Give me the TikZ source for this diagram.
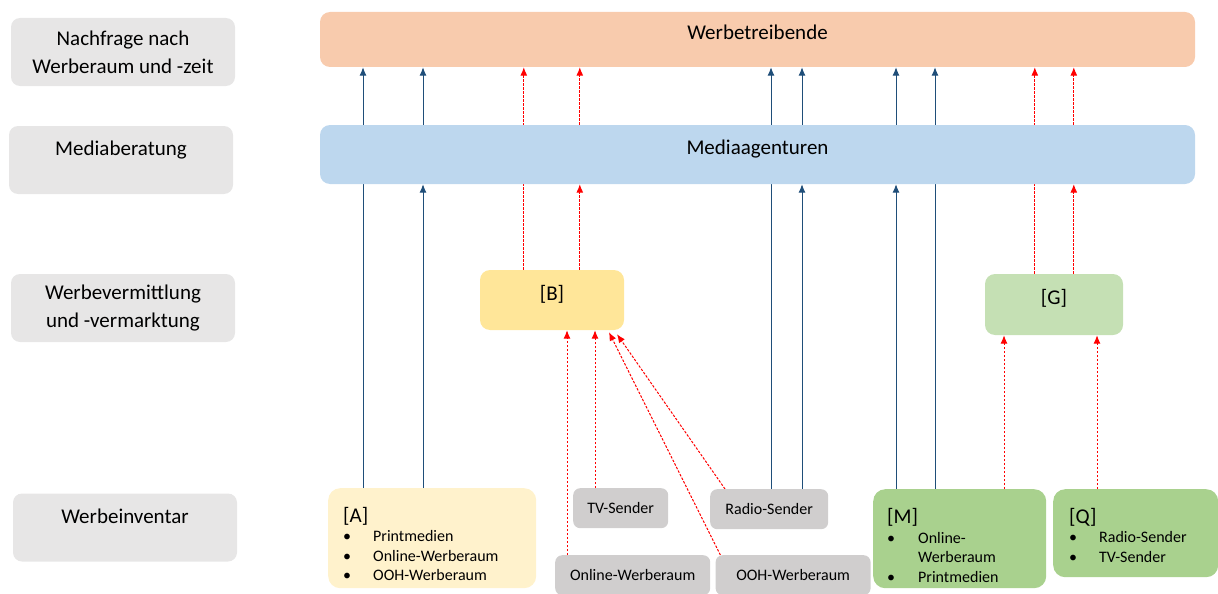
\documentclass[tikz,border=0pt]{standalone}
\usepackage{fontspec}
\setmainfont{Carlito}
\usetikzlibrary{positioning,arrows.meta,backgrounds}

\definecolor{levelgray}{HTML}{E7E6E6}
\definecolor{srcgray}{HTML}{D0CECE}
\definecolor{orangebox}{HTML}{F8CBAD}
\definecolor{bluebox}{HTML}{BDD7EE}
\definecolor{yellowB}{HTML}{FFE699}
\definecolor{yellowA}{HTML}{FFF2CC}
\definecolor{greenG}{HTML}{C5E0B4}
\definecolor{greenMQ}{HTML}{A9D18E}
\definecolor{arrowblue}{HTML}{1F4E79}

\tikzset{
  levelbox/.style={fill=levelgray, rounded corners=9pt, minimum width=224pt, minimum height=68pt, align=center, font=\fontsize{21}{28}\selectfont},
  bigbox/.style={rounded corners=10pt, minimum width=875pt, font=\fontsize{21}{25}\selectfont, text height=15pt, text depth=15pt},
  midbox/.style={rounded corners=10pt, font=\fontsize{21}{25}\selectfont, text height=15pt, text depth=15pt},
  invbox/.style={fill=greenMQ, rounded corners=12pt, anchor=north west, inner ysep=0pt, align=left, font=\fontsize{16}{19.5}\selectfont},
  srcbox/.style={fill=srcgray, rounded corners=7pt, anchor=north west, minimum height=40pt, font=\fontsize{16}{19}\selectfont},
  bluearr/.style={draw=arrowblue, line width=1pt, -{Latex[length=8.5pt,width=7pt]}},
  redarr/.style={draw=red, line width=1pt, dash pattern=on 2.5pt off 1.5pt, -{Latex[length=8.5pt,width=7pt]}}
}

\begin{document}
\begin{tikzpicture}[x=1pt, y=-1pt]
\useasboundingbox (0,0) rectangle (1218,594);
\clip (0,0) rectangle (1218,594);

% Ebenen links
\node[levelbox] (L1) at (123,52) {Nachfrage nach\\Werberaum und -zeit};
\node[levelbox, text height=15pt, text depth=24pt] (L2) at (121,160) {Mediaberatung};
\node[levelbox] (L3) at (123,308) {Werbevermittlung\\und -vermarktung};
\node[levelbox, text height=15pt, text depth=24pt] (L4) at (125,527.5) {Werbeinventar};

% Akteure
\node[bigbox, fill=orangebox, minimum height=55pt] (W) at (757.5,39.5) {Werbetreibende};
\node[bigbox, fill=bluebox, minimum height=59pt] (MA) at (757.5,154.5) {Mediaagenturen};
\node[midbox, fill=yellowB, minimum width=144pt, minimum height=60pt] (B) at (552,300) {[B]};
\node[midbox, fill=greenG, minimum width=138pt, minimum height=61pt] (G) at (1054,304.5) {[G]};

% Werbeinventar
\node[invbox, fill=yellowA, inner xsep=15pt, text width=178pt, minimum height=100pt] (A) at (328,488) {%
  \begin{tabular}{@{}p{30pt}@{}l@{}}
  \multicolumn{2}{@{}l}{\rule{0pt}{32pt}\fontsize{21}{22}\selectfont[A]}\\
  \textbullet & Printmedien\\
  \textbullet & Online-Werberaum\\
  \textbullet & OOH-Werberaum
  \end{tabular}};
\node[invbox, inner xsep=14pt, text width=145pt, minimum height=99pt] (M) at (873,489) {%
  \begin{tabular}{@{}p{31pt}@{}l@{}}
  \multicolumn{2}{@{}l}{\rule{0pt}{34pt}\fontsize{21}{22}\selectfont[M]}\\
  \textbullet & Online-\\
   & Werberaum\\
  \textbullet & Printmedien
  \end{tabular}};
\node[invbox, inner xsep=16pt, text width=133pt, minimum height=88pt] (Q) at (1053,489) {%
  \begin{tabular}{@{}p{30pt}@{}l@{}}
  \multicolumn{2}{@{}l}{\rule{0pt}{25pt}\fontsize{21}{22}\selectfont[Q]}\\
  \textbullet & Radio-Sender\\
  \textbullet & TV-Sender
  \end{tabular}};
\node[srcbox, minimum width=95pt] (TV) at (573,488) {TV-Sender};
\node[srcbox, minimum width=118pt] (Radio) at (710,489) {Radio-Sender};
\node[srcbox, minimum width=155pt] (Online) at (555,555) {Online-Werberaum};
\node[srcbox, minimum width=155pt, right=5pt of Online] (OOH) {OOH-Werberaum};

\begin{scope}[on background layer]
% zu Werbetreibenden / Mediaagenturen
\coordinate (a1) at ([xshift=35]A.north west);
\coordinate (a2) at ([xshift=95]A.north west);
\draw[bluearr] (a1) -- (a1 |- W.south);
\draw[bluearr] (a2) -- (a2 |- MA.south);
\draw[bluearr] (a2 |- MA.north) -- (a2 |- W.south);

\coordinate (b1) at ([xshift=44]B.north west);
\coordinate (b2) at ([xshift=100]B.north west);
\draw[redarr] (b1) -- (b1 |- W.south);
\draw[redarr] (b2) -- (b2 |- MA.south);
\draw[redarr] (b2 |- MA.north) -- (b2 |- W.south);

\coordinate (r1) at ([xshift=61]Radio.north west);
\coordinate (r2) at ([xshift=92]Radio.north west);
\draw[bluearr] (r1) -- (r1 |- W.south);
\draw[bluearr] (r2) -- (r2 |- MA.south);
\draw[bluearr] (r2 |- MA.north) -- (r2 |- W.south);

\coordinate (m1) at ([xshift=23]M.north west);
\coordinate (m2) at ([xshift=62]M.north west);
\draw[bluearr] (m1) -- (m1 |- MA.south);
\draw[bluearr] (m1 |- MA.north) -- (m1 |- W.south);
\draw[bluearr] (m2) -- (m2 |- W.south);

\coordinate (g1) at ([xshift=50]G.north west);
\coordinate (g2) at ([xshift=89]G.north west);
\draw[redarr] (g1) -- (g1 |- W.south);
\draw[redarr] (g2) -- (g2 |- MA.south);
\draw[redarr] (g2 |- MA.north) -- (g2 |- W.south);

% zu [B] und [G]
\coordinate (n1) at ([xshift=12]Online.north west);
\coordinate (t1) at ([xshift=22]TV.north west);
\coordinate (o1) at ([xshift=5]OOH.north west);
\coordinate (r3) at ([xshift=15]Radio.north west);
\draw[redarr] (n1) -- (n1 |- B.south);
\draw[redarr] (t1) -- (t1 |- B.south);
\draw[redarr] (o1) -- ([xshift=57,yshift=-2]B.south);
\draw[redarr] (r3) -- ([xshift=65,yshift=-4]B.south);

\coordinate (m3) at ([xshift=131]M.north west);
\coordinate (q1) at ([xshift=44]Q.north west);
\draw[redarr] (m3) -- (m3 |- G.south);
\draw[redarr] (q1) -- (q1 |- G.south);
\end{scope}
\end{tikzpicture}
\end{document}
